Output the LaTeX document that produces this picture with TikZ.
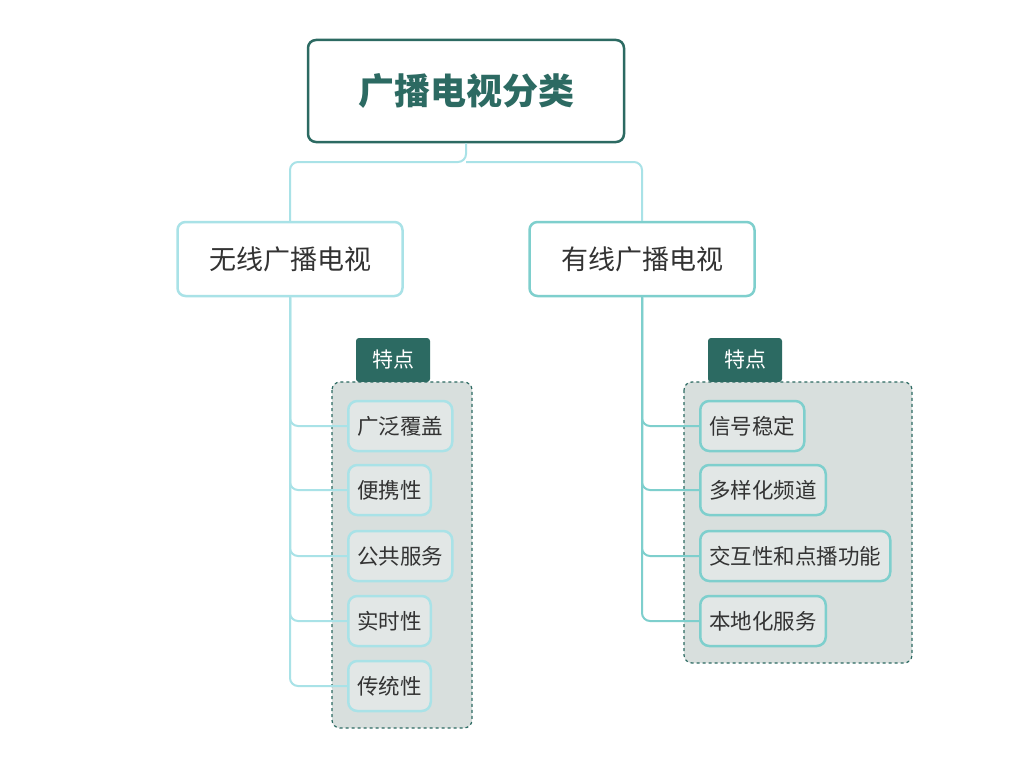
\documentclass[tikz,border=0pt]{standalone}
\usepackage{fontspec}
\setmainfont{Noto Sans CJK SC}
\usetikzlibrary{positioning}
\definecolor{darkteal}{HTML}{2C6A62}
\definecolor{lightcyan}{HTML}{A9E2E7}
\definecolor{midteal}{HTML}{7ECFCD}
\definecolor{groupfill}{HTML}{D8DFDD}
\definecolor{itemfill}{HTML}{E2E7E6}
\begin{document}
\begin{tikzpicture}[x=1pt,y=-1pt,
root/.style={draw=darkteal,line width=2.5pt,rounded corners=8pt,fill=white,
  minimum width=316pt,minimum height=102pt,font=\bfseries\fontsize{36}{40}\selectfont,text=darkteal},
branch/.style={draw=#1,line width=2.5pt,rounded corners=8pt,fill=white,
  minimum width=225pt,minimum height=74pt,font=\fontsize{27}{30}\selectfont,text=black!80},
group/.style={draw=darkteal,dashed,line width=1.2pt,rounded corners=8pt,fill=groupfill},
tab/.style={fill=darkteal,text=white,rounded corners=3pt,minimum width=74pt,
  minimum height=44pt,font=\fontsize{21}{24}\selectfont},
item/.style={draw=#1,line width=2.5pt,rounded corners=9pt,fill=itemfill,anchor=west,
  minimum height=50pt,inner xsep=9pt,font=\fontsize{21.5}{24}\selectfont,text=black!80},
link/.style={draw=#1,line width=2pt,rounded corners=8pt}
]
\useasboundingbox (0,0) rectangle (1024,776);
\fill[white] (0,0) rectangle (1024,776);
% group frames and tabs
\node[tab] (tabL) at (393,360) {特点};
\node[tab] (tabR) at (745,360) {特点};
\draw[group] (332,382) rectangle (472,728);
\draw[group] (684,382) rectangle (912,663);
% top level
\node[root] (root) at (466,91) {广播电视分类};
\node[branch=lightcyan] (wireless) at (290,259) {无线广播电视};
\node[branch=midteal] (cable) at (642,259) {有线广播电视};
\coordinate (split) at (466,162);
\draw[link=lightcyan] (root.south) -- (split) -| (wireless.north);
\draw[link=lightcyan] (split) -| (cable.north);
% wireless features
\foreach \name/\txt/\yy in {w1/广泛覆盖/426,w2/便携性/490,w3/公共服务/556,w4/实时性/621,w5/传统性/686}{
  \node[item=lightcyan] (\name) at (347,\yy) {\txt};
  \draw[link=lightcyan] (wireless.south) |- (\name.west);
}
% cable features
\foreach \name/\txt/\yy in {c1/信号稳定/426,c2/多样化频道/490,c3/交互性和点播功能/556,c4/本地化服务/621}{
  \node[item=midteal] (\name) at (699,\yy) {\txt};
  \draw[link=midteal] (cable.south) |- (\name.west);
}
\end{tikzpicture}
\end{document}
